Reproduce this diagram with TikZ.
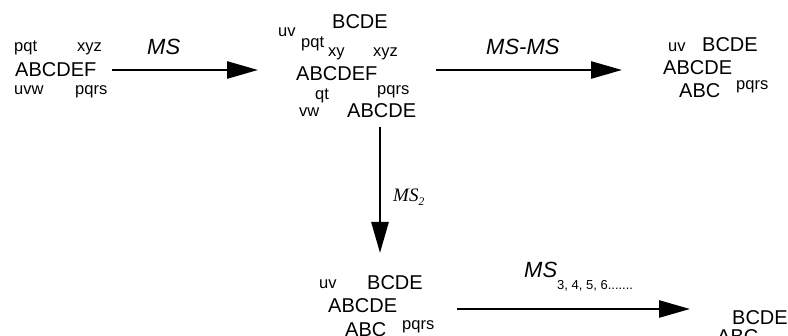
\documentclass[tikz,border=0pt]{standalone}
\usepackage{fontspec}
\setmainfont{Liberation Sans}
\newfontfamily\serifit{Liberation Serif}
\usetikzlibrary{arrows.meta}
\begin{document}
\begin{tikzpicture}[x=1pt,y=-1pt,
  big/.style={inner sep=0pt,anchor=base west,font=\fontsize{20}{20}\selectfont},
  small/.style={inner sep=0pt,anchor=base west,font=\fontsize{16.5}{16.5}\selectfont},
  lab/.style={inner sep=0pt,anchor=base west,font=\fontsize{22}{22}\selectfont\itshape},
  arr/.style={line width=2.7pt,-{Triangle[length=31pt,width=17pt]}}]
\useasboundingbox (0,0) rectangle (788,336);

% starting molecule
\node[small] (l1) at (14,52) {pqt};
\node[small] (l2) at (77,52) {xyz};
\node[big]   (l3) at (15,77) {ABCDEF};
\node[small] (l4) at (14,95) {uvw};
\node[small] (l5) at (75,95) {pqrs};

% first-stage fragments
\node[big]   (m1) at (332,29) {BCDE};
\node[small] (m2) at (278,37) {uv};
\node[small] (m3) at (301,48) {pqt};
\node[small] (m4) at (328,57) {xy};
\node[small] (m5) at (373,57) {xyz};
\node[big]   (m6) at (296,81) {ABCDEF};
\node[small] (m7) at (315,100) {qt};
\node[small] (m8) at (377,95) {pqrs};
\node[small] (m9) at (299,117) {vw};
\node[big]   (m10) at (347,118) {ABCDE};

% MS-MS products
\node[small] (r1) at (668,52) {uv};
\node[big]   (r2) at (702,52) {BCDE};
\node[big]   (r3) at (663,75) {ABCDE};
\node[big]   (r4) at (679,98) {ABC};
\node[small] (r5) at (736,90) {pqrs};

% MS2 products
\node[small] (b1) at (319,289) {uv};
\node[big]   (b2) at (367,290) {BCDE};
\node[big]   (b3) at (328,313) {ABCDE};
\node[big]   (b4) at (345,336.5) {ABC};
\node[small] (b5) at (402,330) {pqrs};

% higher-order products
\node[big]   (c1) at (732,325) {BCDE};
\node[big]   (c2) at (717,344) {ABC};

% arrow end points
\coordinate (a1s) at (112,70);  \coordinate (a1e) at (258,70);
\coordinate (a2s) at (436,70);  \coordinate (a2e) at (622,70);
\coordinate (a3s) at (380,127); \coordinate (a3e) at (380,253);
\coordinate (a4s) at (457,309); \coordinate (a4e) at (690,309);

\draw[arr] (a1s) -- (a1e);
\draw[arr] (a2s) -- (a2e);
\draw[arr] (a3s) -- (a3e);
\draw[arr] (a4s) -- (a4e);

% arrow labels
\node[lab] (t1) at (147,55) {MS};
\node[lab] (t2) at (486,55) {MS-MS};
\node[inner sep=0pt,anchor=base west,font=\fontsize{19}{19}\selectfont\serifit\itshape]
  (t3) at (393,202) {MS\raisebox{-3.5pt}{\fontsize{11.5}{11.5}\selectfont 2}};
\node[lab] (t4) at (524,278) {MS\raisebox{-12pt}{\upshape\fontsize{13}{13}\selectfont 3, 4, 5, 6.......}};
\end{tikzpicture}
\end{document}
